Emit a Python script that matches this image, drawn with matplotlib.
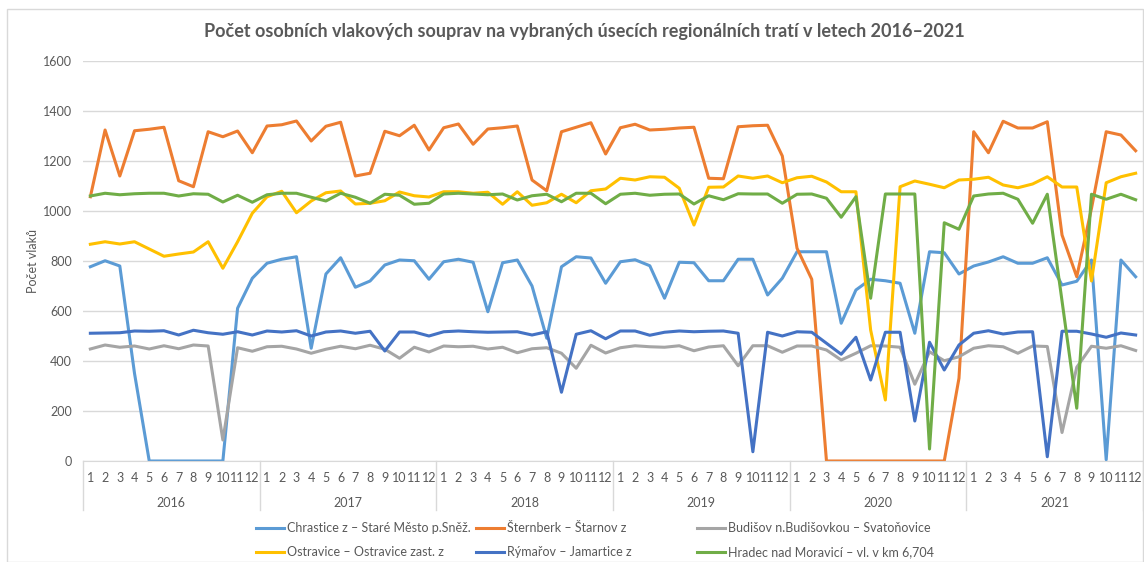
import matplotlib
matplotlib.use("Agg")
import matplotlib.pyplot as plt
from matplotlib.lines import Line2D
from matplotlib.patches import Rectangle
import matplotlib.transforms as mtransforms
import numpy as np

plt.rcParams['font.family'] = ['Lato', 'DejaVu Sans']

years = ["2016", "2017", "2018", "2019", "2020", "2021"]
months = [str(m) for m in range(1, 13)]

chrastice = [777, 801, 780, 350, 0, 0, 0, 0, 0, 0, 611, 731,
             791, 807, 817, 451, 748, 813, 695, 720, 784, 804, 801, 727,
             797, 807, 795, 597, 793, 804, 700, 491, 777, 817, 812, 711,
             797, 805, 781, 651, 795, 793, 721, 721, 807, 807, 664, 731,
             837, 837, 837, 551, 684, 727, 721, 711, 511, 837, 833, 748,
             780, 796, 817, 791, 791, 813, 704, 719, 804, 5, 804, 737]
sternberk = [1057, 1324, 1140, 1321, 1327, 1335, 1121, 1097, 1317, 1297, 1320, 1233,
             1340, 1345, 1360, 1280, 1339, 1355, 1140, 1151, 1319, 1301, 1343, 1244,
             1333, 1348, 1267, 1328, 1333, 1340, 1124, 1081, 1317, 1335, 1353, 1228,
             1333, 1347, 1324, 1327, 1332, 1335, 1131, 1129, 1337, 1341, 1343, 1220,
             851, 727, 0, 0, 0, 0, 0, 0, 0, 0, 0, 331,
             1317, 1233, 1359, 1332, 1332, 1357, 904, 737, 1010, 1317, 1304, 1241]
budisov = [448, 464, 455, 460, 448, 461, 449, 464, 460, 84, 453, 439,
           457, 459, 448, 431, 447, 459, 449, 463, 447, 411, 455, 436,
           460, 457, 459, 448, 455, 433, 449, 453, 431, 371, 463, 432,
           453, 461, 457, 455, 461, 441, 456, 461, 381, 461, 461, 435,
           460, 460, 444, 404, 431, 461, 460, 455, 307, 437, 401, 417,
           451, 461, 457, 431, 460, 458, 114, 375, 459, 451, 461, 442]
ostravice = [867, 877, 868, 877, 848, 819, 828, 836, 877, 771, 877, 991,
             1057, 1079, 993, 1040, 1073, 1080, 1028, 1031, 1041, 1076, 1061, 1056,
             1077, 1077, 1071, 1075, 1027, 1077, 1023, 1033, 1067, 1033, 1081, 1088,
             1131, 1124, 1137, 1135, 1091, 944, 1095, 1096, 1140, 1131, 1140, 1113,
             1133, 1139, 1116, 1077, 1077, 524, 244, 1097, 1120, 1107, 1093, 1124,
             1127, 1135, 1104, 1093, 1108, 1137, 1096, 1096, 720, 1113, 1137, 1151]
rymarov = [511, 512, 513, 520, 519, 521, 504, 523, 513, 507, 517, 504,
           520, 516, 521, 500, 516, 520, 511, 519, 440, 516, 516, 500,
           517, 520, 517, 515, 516, 517, 504, 517, 275, 507, 521, 489,
           520, 520, 503, 515, 520, 517, 519, 520, 511, 37, 515, 500,
           517, 515, 471, 427, 495, 324, 515, 515, 160, 475, 364, 464,
           511, 521, 508, 516, 517, 17, 519, 519, 508, 495, 512, 504]
hradec = [1060, 1071, 1065, 1069, 1071, 1071, 1060, 1069, 1067, 1036, 1063, 1035,
          1065, 1071, 1071, 1055, 1040, 1071, 1055, 1031, 1067, 1063, 1027, 1031,
          1068, 1071, 1068, 1065, 1068, 1044, 1061, 1067, 1037, 1071, 1071, 1029,
          1067, 1071, 1063, 1067, 1068, 1028, 1061, 1045, 1069, 1068, 1068, 1031,
          1067, 1068, 1051, 975, 1057, 651, 1068, 1068, 1068, 48, 953, 927,
          1060, 1068, 1071, 1047, 951, 1067, 640, 211, 1067, 1047, 1067, 1045]

series = [
    ("Chrastice z – Staré Město p.Sněž.", chrastice, "#5B9BD5"),
    ("Šternberk – Štarnov z", sternberk, "#ED7D31"),
    ("Budišov n.Budišovkou – Svatoňovice", budisov, "#A5A5A5"),
    ("Ostravice – Ostravice zast. z", ostravice, "#FFC000"),
    ("Rýmařov – Jamartice z", rymarov, "#4472C4"),
    ("Hradec nad Moravicí – vl. v km 6,704", hradec, "#70AD47"),
]

W, H = 1144, 562
fig = plt.figure(figsize=(W / 100, H / 100), dpi=100)
ax = fig.add_axes([83 / W, 1 - 461 / H, (1143 - 83) / W, 400 / H])

x = np.arange(len(years) * 12)
for name, vals, col in series:
    ax.plot(x, vals, color=col, lw=2.2, solid_joinstyle="round")

ax.set_xlim(-0.5, len(x) - 0.5)
ax.set_ylim(0, 1600)
ax.set_yticks(range(0, 1601, 200))
ax.grid(axis="y", color="#d9d9d9", lw=1)
ax.set_axisbelow(True)
for s in ["top", "right", "left"]:
    ax.spines[s].set_visible(False)
ax.spines["bottom"].set_color("#d9d9d9")
ax.tick_params(axis="y", length=0, pad=8, labelsize=9, labelcolor="#595959")
ax.set_xticks(x)
ax.set_xticklabels(months * len(years))
ax.tick_params(axis="x", length=0, pad=8, labelsize=9, labelcolor="#595959")

trans = mtransforms.blended_transform_factory(ax.transData, ax.transAxes)
for i, yr in enumerate(years):
    ax.text(i * 12 + 5.5, -0.105, yr, transform=trans, ha="center", va="center",
            fontsize=9, color="#595959")
for i in range(len(years) + 1):
    ax.plot([i * 12 - 0.5] * 2, [0, -0.122], transform=trans, color="#d9d9d9",
            lw=1, clip_on=False)

fig.text(584 / W, 1 - 32 / H,
         "Počet osobních vlakových souprav na vybraných úsecích regionálních tratí v letech 2016–2021",
         ha="center", va="center", fontsize=13, fontweight="bold", color="#595959")
fig.text(33 / W, 1 - 261 / H, "Počet vlaků", rotation=90, ha="center", va="center",
         fontsize=9, color="#595959")

# legend drawn by hand so the columns get Excel's equal widths
leg_x = [256, 476, 697]
leg_y = [528, 552]
for k, (name, vals, col) in enumerate(series):
    cx = leg_x[k % 3]
    cy = 1 - leg_y[k // 3] / H
    fig.add_artist(Line2D([cx / W, (cx + 28) / W], [cy, cy], color=col, lw=2.2))
    fig.text((cx + 31) / W, cy, name, ha="left", va="center", fontsize=9, color="#595959")

fig.add_artist(Rectangle((7 / W, 0), (1143 - 7) / W, 1 - 9 / H, fill=False,
                         edgecolor="#d9d9d9", lw=1, transform=fig.transFigure))

fig.savefig("out.png", dpi=100)
